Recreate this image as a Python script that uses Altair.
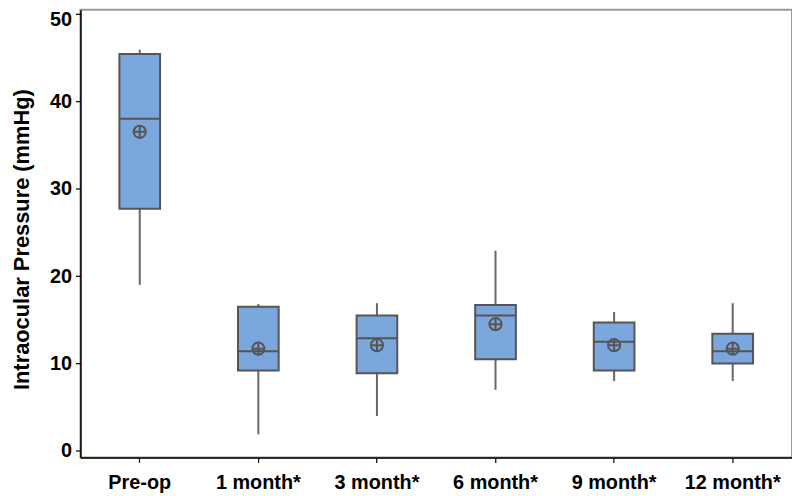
import altair as alt
import pandas as pd

groups = ["Pre-op", "1 month*", "3 month*", "6 month*", "9 month*", "12 month*"]
whisker_low = [19.0, 1.9, 4.0, 7.0, 8.0, 8.0]
q1 = [27.7, 9.2, 8.9, 10.5, 9.2, 10.0]
median = [38.0, 11.4, 12.9, 15.5, 12.5, 11.4]
q3 = [45.4, 16.5, 15.5, 16.7, 14.7, 13.4]
whisker_high = [45.9, 16.8, 16.9, 22.9, 15.9, 16.9]
mean = [36.5, 11.7, 12.1, 14.5, 12.1, 11.7]

df = pd.DataFrame({
    "group": groups,
    "lo": whisker_low,
    "q1": q1,
    "med": median,
    "q3": q3,
    "hi": whisker_high,
    "mean": mean,
})

FONT = "Liberation Sans"
STROKE = "#555555"
FILL = "#7BA7DC"

x = alt.X("group:N", sort=groups,
          scale=alt.Scale(paddingInner=0, paddingOuter=0),
          axis=alt.Axis(title=None, labelAngle=0, labelFont=FONT, labelFontSize=20,
                        labelFontWeight="bold", labelColor="black", labelPadding=10,
                        domainColor="black", domainWidth=1.5, tickColor="black",
                        tickSize=5, tickWidth=1.2, grid=False))

yscale = alt.Scale(domain=[-0.74, 50.45], nice=False, zero=False)
yaxis = alt.Axis(title="Intraocular Pressure (mmHg)", values=[0, 10, 20, 30, 40, 50],
                 labelFont=FONT, labelFontSize=20, labelFontWeight="bold",
                 labelColor="black", labelPadding=4, labelFlush=5, labelFlushOffset=4,
                 domainColor="black",
                 domainWidth=1.5, tickColor="black", tickSize=5, tickWidth=1.2,
                 grid=False, titleFont=FONT, titleFontSize=22, titleFontWeight="bold",
                 titleColor="black", titleX=-59, titleY=231, titleAngle=270,
                 titleAlign="center", titleBaseline="middle")

base = alt.Chart(df)

whisk = base.mark_rule(color="#666666", strokeWidth=2).encode(
    x=x, y=alt.Y("lo:Q", scale=yscale, axis=yaxis), y2="hi:Q")

box = base.mark_bar(size=41, fill=FILL, stroke=STROKE, strokeWidth=2).encode(
    x=x, y=alt.Y("q1:Q", scale=yscale), y2="q3:Q")

med = base.mark_tick(size=41, thickness=2, color=STROKE, opacity=1).encode(
    x=x, y=alt.Y("med:Q", scale=yscale))

sym = "M -1 0 A 1 1 0 1 0 1 0 A 1 1 0 1 0 -1 0 Z M -1 0 L 1 0 M 0 -1 L 0 1"
meanpt = base.mark_point(shape=sym, size=150, filled=False, stroke=STROKE,
                         strokeWidth=2, opacity=1).encode(
    x=x, y=alt.Y("mean:Q", scale=yscale))

chart = alt.layer(whisk, box, med, meanpt).properties(
    width=717, height=451,
    autosize=alt.AutoSizeParams(type="none"),
    padding={"left": 73, "top": 0, "right": 0, "bottom": 40},
).configure_view(stroke="#999999", strokeWidth=2)

chart.save("out.html", embed_options={"renderer": "svg", "actions": False})
